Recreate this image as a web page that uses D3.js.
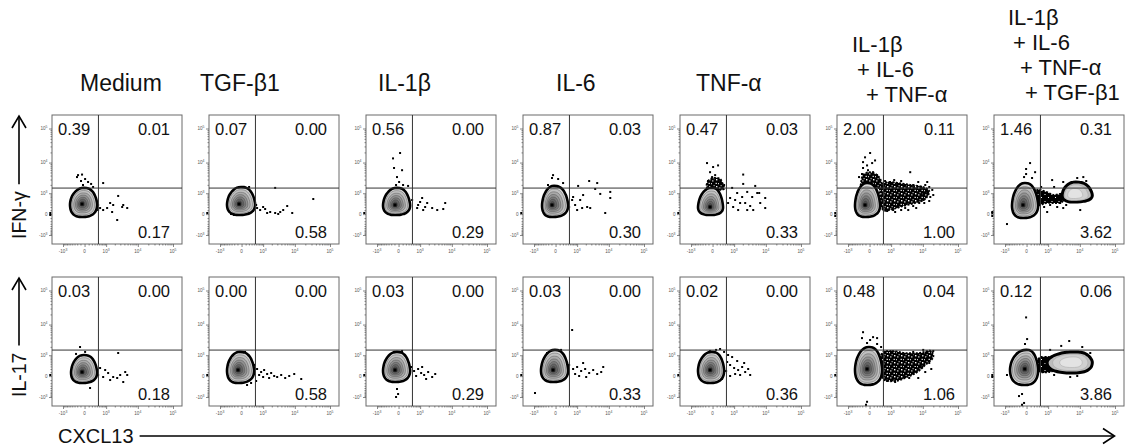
<!DOCTYPE html>
<html><head><meta charset="utf-8">
<script src="https://cdn.jsdelivr.net/npm/d3@7"></script>
<style>body{margin:0;background:#fff}text{font-family:"Liberation Sans",Arial,Helvetica,sans-serif}</style>
</head><body><svg id="c" width="1126" height="448"></svg>
<script>
// ---------------- DATA ----------------
const conditions = [["Medium"],["TGF-β1"],["IL-1β"],["IL-6"],["TNF-α"],
  ["IL-1β","+ IL-6","+ TNF-α"],["IL-1β","+ IL-6","+ TNF-α","+ TGF-β1"]];
const rowMarkers = ["IFN-γ","IL-17"];
const xMarker = "CXCL13";
const majorTicks = [-1000, 0, 1000, 10000, 100000];
const tickExponents = ["3", "", "3", "4", "5"];
const gateX = 480, gateY = 1550;
// quadrant percentages: upper-left, upper-right, lower-right
const ulIFNg = [0.39,0.07,0.56,0.87,0.47,2.00,1.46];
const urIFNg = [0.01,0.00,0.00,0.03,0.03,0.11,0.31];
const lrIFNg = [0.17,0.58,0.29,0.30,0.33,1.00,3.62];
const ulIL17 = [0.03,0.00,0.03,0.03,0.02,0.48,0.12];
const urIL17 = [0.00,0.00,0.00,0.00,0.00,0.04,0.06];
const lrIL17 = [0.18,0.58,0.29,0.33,0.36,1.06,3.86];
// main population: [xLow, xHigh, yHigh, yLow, xPeak, yPeak]
const popIFNg = [[-515,413,1570,-70,-58,318],[-515,463,1690,-20,-58,318],[-570,366,1570,-20,-85,277],
  [-460,413,1840,-70,-85,277],[-515,320,1570,-20,-58,201],[-515,320,2300,-70,-112,277],[-515,366,2300,-98,-85,277]];
const popIL17 = [[-460,413,1022,-192,-58,104],[-515,413,1331,-192,-85,166],[-570,366,1331,-159,-85,166],
  [-515,413,1570,-159,-58,166],[-515,366,1331,-192,-58,166],[-515,413,1975,-267,-58,201],[-631,366,1570,-267,-40,201]];
// second (CXCL13+) population
const pop2IFNg = [null,null,null,null,null,null,[2970,22800,2490,411,6400,851]];
const pop2IL17 = [null,null,null,null,null,null,[920,22800,1331,76,5980,518]];
// dense event regions (outlines)
const denseIFNg = [[],[],[],[],
  [[[-142,1570],[-112,2680],[12,3350],[207,3110],[323,1975],[366,1440]]],
  [[[366,1975],[839,2490],[1905,2300],[4540,1975],[10260,1690],[15300,1215],[11750,575],[5980,363],[2568,237],[1185,134],[463,104]],
   [[-243,2300],[-173,4130],[-10,5100],[207,4130],[366,2680],[366,1690],[-243,1690]]],
  [[[323,1331],[839,1123],[1630,851],[2970,941],[2970,411],[1630,363],[839,363],[366,277]]]];
const denseIL17 = [[],[],[],[],[],
  [[[413,1215],[1090,1440],[2970,1215],[7850,1215],[17500,1440],[19950,851],[11750,363],[6860,104],[3425,-20],[1395,-127],[463,-70]]],
  [[[366,705],[1090,851],[1905,639],[1905,201],[1090,104],[413,134]]]];
// individual outlying events [CXCL13, cytokine]
const eventsIFNg = [
 [[-173,4130],[-58,4300],[-208,3590],[768,2300],[2568,780],[1395,363],[1770,277],[3690,277],[4870,166],[1090,166],[768,104],[1630,50],[3425,201],[2390,-159],[571,166],[463,277],[366,462],[463,104],[-85,2680],[12,3110],[84,2490],[174,2148],[-35,1975],[243,1690],[-2700,26],[-2700,-20]],
 [[2568,1570],[33700,575],[571,166],[768,104],[1185,134],[1770,50],[2568,26],[3690,50],[4540,104],[5980,237],[8400,26],[1395,26],[1001,201],[3200,3],[413,363],[517,277],[366,76],[-322,3],[-208,-20],[60,1570],[-58,1690],[207,1690],[-2700,26]],
 [[-142,13300],[34,19200],[-112,6850],[84,5870],[-35,3590],[12,2490],[463,518],[839,277],[1185,639],[1510,201],[1770,363],[2568,166],[768,166],[1290,104],[3690,104],[5600,134],[6400,363],[1001,411],[112,1975],[281,1838],[-58,1975],[-2700,26]],
 [[-58,4130],[-85,3350],[1090,1838],[2568,2680],[4540,2300],[3947,1440],[5600,941],[11000,1123],[11000,639],[1630,851],[1290,518],[839,277],[1510,166],[2215,201],[2770,166],[1001,104],[7850,26],[634,518],[697,705],[60,3110],[207,2300],[-208,1975],[463,201],[-2700,26]],
 [[-142,9650],[12,7330],[141,8200],[-58,5100],[-10,3590],[60,4130],[2060,4300],[2060,2148],[4870,1838],[839,1570],[1290,1022],[2770,1123],[5600,1022],[6400,1022],[1905,705],[3947,705],[697,639],[1090,518],[1630,363],[2390,363],[3425,237],[2770,104],[1395,104],[6860,363],[9600,639],[9600,166],[920,201],[571,363],[4240,104],[-112,2680],[207,2680],[366,1975],[84,1975],[-2700,26]],
 [[4240,5100],[7350,2490],[13400,2490],[18700,1331],[16400,705],[10260,518],[3690,104],[1770,201],[1185,104],[11750,1975],[15300,1690],[8980,1690],[5210,1975],[2970,1975],[1630,2148],[839,2300],[571,2680],[1290,2880],[2215,2680],[13400,1022],[10260,941],[7850,363],[5210,237],[2970,166],[1395,50],[697,76],[463,134],[2215,104],[6400,166],[11000,363],[19950,851],[15300,462],[517,1975],
  [12,19200],[-112,14300],[-173,10300],[-58,8200],[60,9650],[141,11550],[-173,6850],[-35,5870],[-208,4470],[84,5100],[207,4130],[-322,3590],[-2700,26],[-2700,-44]],
 [[84,9650],[-10,6380],[-10,4470],[243,5100],[-58,3590],[141,3350],[1395,2880],[3200,2490],[8400,3350],[12600,3590],[1185,277],[2060,201],[920,50],[10260,104],[-840,-310],[3200,166],[2568,363],[1630,1690],[4870,1975],[15300,2680],[18700,1440],[17500,575],[3947,277],[697,201],[517,1690],[-2700,26],[-2700,-44],[-2700,50]]
];
const eventsIL17 = [
 [[-112,1975],[2568,1215],[571,237],[920,166],[1185,76],[1770,-20],[2390,-44],[2970,26],[4240,104],[4870,26],[3690,-159],[768,-20],[1395,-98],[141,-400],[413,166],[463,26],[-243,1123],[12,1331],[-2700,26]],
 [[413,363],[571,201],[839,104],[1090,166],[1395,50],[1905,76],[2390,3],[2970,-20],[3947,26],[5210,-44],[6860,3],[9600,50],[1630,-44],[1001,-20],[697,26],[517,-127],[281,-192],[141,-267],[-58,1215],[84,1331],[15300,-70],[-2700,26]],
 [[413,277],[571,134],[839,201],[1090,76],[1395,26],[1905,104],[2568,-20],[3200,50],[1630,-70],[697,3],[-35,-450],[-10,-760],[-58,-1000],[-112,1331],[84,1440],[1185,277],[-2700,26]],
 [[634,6850],[463,363],[697,201],[1001,277],[1395,134],[1905,201],[2568,76],[3425,166],[4540,50],[5980,104],[1185,3],[2060,-20],[839,50],[6860,277],[-916,-689],[-243,1215],[141,1570],[1630,462],[-2700,26]],
 [[207,1690],[366,1331],[571,1022],[839,851],[517,518],[697,363],[1001,237],[1395,166],[1905,277],[2390,104],[1630,26],[1090,50],[2970,201],[2215,462],[1290,575],[463,134],[697,3],[84,1570],[-58,1440],[281,-70],[3425,26],[-2700,26]],
 [[19950,1440],[10260,1570],[5210,1331],[7350,-44],[1395,-159],[2970,-20],[13400,780],[-173,5870],[84,4130],[207,3850],[12,3350],[-208,3850],[11750,1022],[15300,462],[9600,277],[4870,1022],[2390,1123],[1090,1215],[571,1331],[3947,-44],[1905,-70],[697,-127],[11750,104],[17500,201],[5980,363],[3425,941],[1630,1022],[8980,1022],[-58,2680],[207,2490],[366,1975],[-58,-1500],[-85,-1900],[-2700,26]],
 [[-10,16300],[12,3590],[-35,2490],[-112,-760],[-208,-920],[-840,26],[4870,3110],[2770,2148],[11750,1975],[19950,1215],[8400,3],[5210,-20],[1185,1570],[517,851],[413,363],[634,104],[1630,26],[13400,134],[-112,-1900],[-58,-1650],[-2700,26],[-2700,-20]]
];
const rowsData = [
  {marker: rowMarkers[0], ul: ulIFNg, ur: urIFNg, lr: lrIFNg, pop: popIFNg, pop2: pop2IFNg, dense: denseIFNg, events: eventsIFNg},
  {marker: rowMarkers[1], ul: ulIL17, ur: urIL17, lr: lrIL17, pop: popIL17, pop2: pop2IL17, dense: denseIL17, events: eventsIL17}
];

// ---------------- LAYOUT ----------------
const W = 130, H = 129, rowTops = [115, 277], colLeft = c => 52 + 157 * c;
const markerGap = [5, 9];
const titleX = [[80],[200],[378],[556],[696],[852,857,866],[1008,1013,1020,1025]];
const titleBase = [[91],[91],[91],[91],[91],[52,77,102],[25,50,75,100]];
const titleSize = [23, 23, 23, 23, 23, 22, 22];
const svg = d3.select("#c");
const defs = svg.append("defs");
function makePattern(id, size, holes) {
  const p = defs.append("pattern").attr("id", id).attr("width", size).attr("height", size).attr("patternUnits", "userSpaceOnUse");
  p.append("rect").attr("width", size).attr("height", size).attr("fill", "#000");
  holes.forEach(h => p.append("rect").attr("x", h[0]).attr("y", h[1]).attr("width", h[2]).attr("height", h[2]).attr("fill", "#fff"));
}
makePattern("speck", 7, [[1,1,1.4],[4.2,2.3,1.2],[0.6,4.8,1.2],[3,5.2,1],[5.6,0.2,1]]);
makePattern("speck2", 7, [[1.5,2,1],[5,5,1]]);

const x = d3.scaleSymlog().constant(330).domain([-1000, 100000]).range([11, 121]);
const y = d3.scaleSymlog().constant(330).domain([-1000, 100000]).range([120, 13.5]);
const closed = d3.line().curve(d3.curveCatmullRomClosed);
const fmt = d3.format(".2f");
const minorTicks = [];
[-1, 1].forEach(sg => { for (let k = 1; k < 10; k++) minorTicks.push(sg * k * 100); });
for (let k = 2; k < 10; k++) { minorTicks.push(k * 1000); minorTicks.push(k * 10000); }

function eggPts(b, k) {
  const X0 = x(b[0]), X1 = x(b[1]), YT = y(b[2]), YB = y(b[3]), CX = x(b[4]), CY = y(b[5]);
  const pts = [];
  for (let i = 0; i < 40; i++) {
    const a = i / 40 * 2 * Math.PI, c = Math.cos(a), s = Math.sin(a);
    const ex = Math.sign(c) * Math.pow(Math.abs(c), 0.8), ey = Math.sign(s) * Math.pow(Math.abs(s), 0.8);
    let dx = ex * (c > 0 ? X1 - CX : CX - X0) * k;
    const dy = ey * (s > 0 ? YB - CY : CY - YT) * k;
    if (s < 0) { dx *= (1 - 0.2 * Math.abs(s)); dx += 0.12 * (X1 - CX) * k * s * s; }
    pts.push([CX + dx, CY + dy]);
  }
  return pts;
}

// column titles
conditions.forEach((lines, c) => {
  lines.forEach((t, i) => {
    svg.append("text").attr("x", titleX[c][i]).attr("y", titleBase[c][i])
      .attr("font-size", titleSize[c]).attr("fill", "#111").text(t);
  });
});

rowsData.forEach((row, r) => {
  conditions.forEach((cond, c) => {
    const g = svg.append("g").attr("transform", `translate(${colLeft(c)},${rowTops[r]})`);
    g.append("rect").attr("width", W).attr("height", H).attr("fill", "#fff")
      .attr("stroke", "#6a6a6a").attr("stroke-width", 1);
    // axes
    const ya = g.append("g").call(d3.axisLeft(y).tickValues(majorTicks).tickSize(3).tickFormat(""));
    const ym = g.append("g").call(d3.axisLeft(y).tickValues(minorTicks).tickSize(1.5).tickFormat(""));
    const xa = g.append("g").attr("transform", `translate(0,${H})`).call(d3.axisBottom(x).tickValues(majorTicks).tickSize(3).tickFormat(""));
    const xm = g.append("g").attr("transform", `translate(0,${H})`).call(d3.axisBottom(x).tickValues(minorTicks).tickSize(1.5).tickFormat(""));
    [ya, ym, xa, xm].forEach(a => { a.select(".domain").remove(); a.selectAll("line").attr("stroke", "#555").attr("stroke-width", 0.7); });
    majorTicks.forEach((v, i) => {
      const lab = (v < 0 ? "-" : "") + (v === 0 ? "0" : "10");
      const ty = g.append("text").attr("x", -4.5).attr("y", y(v) + 1.6).attr("text-anchor", "end")
        .attr("font-size", 4.6).attr("fill", "#555").text(lab);
      if (tickExponents[i]) ty.append("tspan").attr("dy", -1.8).attr("font-size", 3.4).text(tickExponents[i]);
      const tx = g.append("text").attr("x", x(v)).attr("y", H + 9).attr("text-anchor", "middle")
        .attr("font-size", 4.6).attr("fill", "#555").text(lab);
      if (tickExponents[i]) tx.append("tspan").attr("dy", -1.8).attr("font-size", 3.4).text(tickExponents[i]);
    });
    // dense regions
    row.dense[c].forEach(poly => {
      g.append("path").attr("d", closed(poly.map(d => [x(d[0]), y(d[1])])))
        .attr("fill", c === 6 ? "url(#speck2)" : "url(#speck)").attr("stroke", "#000").attr("stroke-width", 1.8).attr("stroke-dasharray", "2 1.4");
    });
    // events
    g.selectAll("rect.ev").data(row.events[c]).join("rect").attr("class", "ev")
      .attr("x", d => x(d[0]) - 1).attr("y", d => y(d[1]) - 1).attr("width", 2).attr("height", 2).attr("fill", "#000");
    // main population contours
    const b = row.pop[c];
    const levels = [1, 0.84, 0.69, 0.55, 0.42, 0.3, 0.18];
    const fills = ["#d6d6d6", "#c0c0c0", "#a9a9a9", "#929292", "#7b7b7b", "#646464", "#4d4d4d"];
    levels.forEach((k, i) => {
      g.append("path").attr("d", closed(eggPts(b, k))).attr("fill", fills[i])
        .attr("stroke", i === 0 ? "#000" : "#333").attr("stroke-width", i === 0 ? 2.6 : 0.35);
    });
    g.append("rect").attr("x", x(b[4]) - 1.6).attr("y", y(b[5]) - 1.6).attr("width", 3.2).attr("height", 3.2).attr("fill", "#000");
    // second population
    const b2 = row.pop2[c];
    if (b2) {
      [[1, "#bdbdbd"], [0.78, "#d0d0d0"], [0.5, "#e3e3e3"]].forEach(([k, f], i) => {
        g.append("path").attr("d", closed(eggPts(b2, k))).attr("fill", f)
          .attr("stroke", i === 0 ? "#000" : "#9a9a9a").attr("stroke-width", i === 0 ? 3 : 0.4);
      });
    }
    // quadrant gates
    g.append("line").attr("x1", x(gateX)).attr("x2", x(gateX)).attr("y1", 0).attr("y2", H).attr("stroke", "#333").attr("stroke-width", 1);
    g.append("line").attr("x1", 0).attr("x2", W).attr("y1", y(gateY)).attr("y2", y(gateY)).attr("stroke", "#333").attr("stroke-width", 1);
    // quadrant numbers
    g.append("text").attr("x", 6).attr("y", 20).attr("font-size", 16.5).attr("fill", "#111").text(fmt(row.ul[c]));
    g.append("text").attr("x", W - 12).attr("y", 20).attr("text-anchor", "end").attr("font-size", 16.5).attr("fill", "#111").text(fmt(row.ur[c]));
    g.append("text").attr("x", W - 12).attr("y", H - 6).attr("text-anchor", "end").attr("font-size", 16.5).attr("fill", "#111").text(fmt(row.lr[c]));
  });
  // row marker with arrow
  const top = rowTops[r], bottom = top + H, start = bottom - markerGap[r];
  const t = svg.append("text").attr("transform", `translate(26,${start}) rotate(-90)`)
    .attr("font-size", 19.5).attr("fill", "#111").text(row.marker);
  const len = t.node().getComputedTextLength();
  const ax = 19;
  svg.append("line").attr("x1", ax).attr("x2", ax).attr("y1", start - len - 7).attr("y2", top + 1)
    .attr("stroke", "#000").attr("stroke-width", 1.6);
  svg.append("polyline").attr("points", `${ax - 7},${top + 13} ${ax},${top + 1} ${ax + 7},${top + 13}`)
    .attr("fill", "none").attr("stroke", "#000").attr("stroke-width", 1.6);
});

// x marker with arrow
const xt = svg.append("text").attr("x", 58).attr("y", 443).attr("font-size", 20).attr("fill", "#111").text(xMarker);
const xl = xt.node().getComputedTextLength();
svg.append("line").attr("x1", 58 + xl + 6).attr("x2", 1114).attr("y1", 436).attr("y2", 436).attr("stroke", "#000").attr("stroke-width", 1.6);
svg.append("polyline").attr("points", `1103,428.5 1114.5,436 1103,443.5`).attr("fill", "none").attr("stroke", "#000").attr("stroke-width", 1.6);
</script></body></html>
